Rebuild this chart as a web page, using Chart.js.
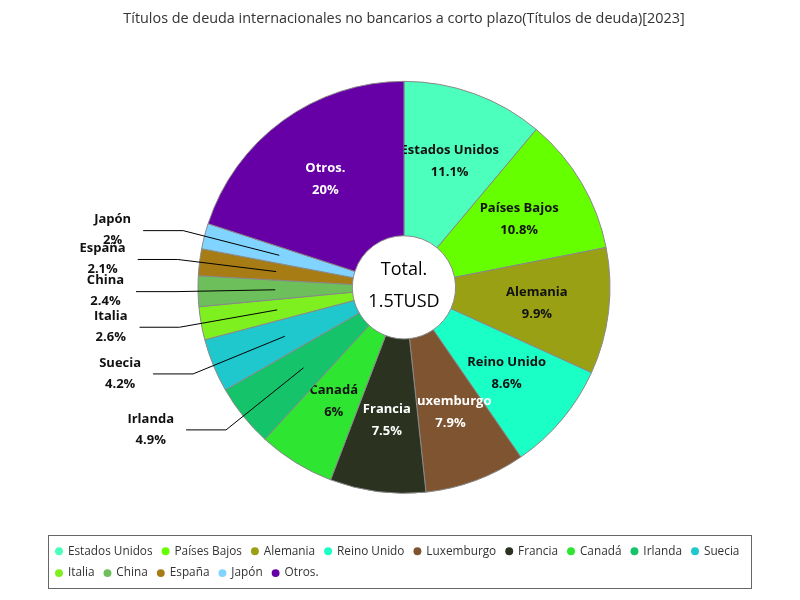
<!DOCTYPE html>
<html>
<head>
<meta charset="utf-8">
<script src="https://cdn.jsdelivr.net/npm/chart.js@4.4.0/dist/chart.umd.min.js"></script>
<style>
  html, body { margin: 0; padding: 0; background: #fff; }
  #contenedor { width: 800px; height: 600px; }
</style>
</head>
<body>
<div id="contenedor"><canvas id="grafico"></canvas></div>
<script>
const titulo = "Títulos de deuda internacionales no bancarios a corto plazo(Títulos de deuda)[2023]";
const paises = ["Estados Unidos", "Países Bajos", "Alemania", "Reino Unido", "Luxemburgo", "Francia",
  "Canadá", "Irlanda", "Suecia", "Italia", "China", "España", "Japón", "Otros."];
const porcentajes = [11.1, 10.8, 9.9, 8.6, 7.9, 7.5, 6, 4.9, 4.2, 2.6, 2.4, 2.1, 2, 20];
const colores = ["#4dffbd", "#66ff00", "#9aa014", "#1affc6", "#7f5430", "#2b3320",
  "#2ee632", "#14c36a", "#1ec8cc", "#7ef020", "#6cbf5a", "#a87c14", "#80d4ff", "#6600a6"];
const totalEtiqueta = "Total.";
const totalValor = "1.5TUSD";

const fuente = "'Open Sans', 'Noto Sans', sans-serif";

// texto blanco sobre porciones oscuras
function colorTexto(hex) {
  const r = parseInt(hex.substr(1, 2), 16), g = parseInt(hex.substr(3, 2), 16), b = parseInt(hex.substr(5, 2), 16);
  return (0.299 * r + 0.587 * g + 0.114 * b) < 110 ? "#fff" : "#111";
}

const etiquetas = {
  id: "etiquetas",
  afterDatasetsDraw(chart) {
    const ctx = chart.ctx;
    const meta = chart.getDatasetMeta(0);
    const n = meta.data.length;
    const ultimo = meta.data[n - 1].getProps(["endAngle"], true).endAngle;
    meta.data.forEach((arc, i) => {
      const p = arc.getProps(["x", "y", "startAngle", "endAngle", "innerRadius", "outerRadius"], true);
      const mid = (p.startAngle + p.endAngle) / 2;
      const rMid = (p.innerRadius + p.outerRadius) / 2;
      const cos = Math.cos(mid), sin = Math.sin(mid);
      const pct = porcentajes[i] + "%";
      ctx.save();
      ctx.font = "bold 13px " + fuente;
      ctx.textBaseline = "middle";
      ctx.textAlign = "center";
      if (porcentajes[i] >= 5) {
        // las porciones siguientes tapan la etiqueta
        ctx.beginPath();
        ctx.rect(0, 0, chart.width, chart.height);
        ctx.moveTo(p.x + Math.cos(p.endAngle) * p.outerRadius, p.y + Math.sin(p.endAngle) * p.outerRadius);
        ctx.arc(p.x, p.y, p.outerRadius, p.endAngle, ultimo);
        ctx.arc(p.x, p.y, p.innerRadius, ultimo, p.endAngle, true);
        ctx.closePath();
        ctx.clip("evenodd");
        const cx = p.x + cos * (rMid + 5), cy = p.y + sin * (rMid + 5);
        ctx.fillStyle = colorTexto(colores[i]);
        ctx.fillText(paises[i], cx, cy - 11);
        ctx.fillText(pct, cx, cy + 11);
      } else {
        const ax = p.x + cos * rMid, ay = p.y + sin * rMid;
        const ex = p.x + cos * (p.outerRadius + 22), ey = p.y + sin * (p.outerRadius + 22);
        const fx = ex - 40;
        ctx.strokeStyle = "#000";
        ctx.lineWidth = 1;
        ctx.beginPath();
        ctx.moveTo(ax, ay);
        ctx.lineTo(ex, ey);
        ctx.lineTo(fx, ey);
        ctx.stroke();
        const w = Math.max(ctx.measureText(paises[i]).width, ctx.measureText(pct).width);
        const bx = fx - 12 - w / 2;
        ctx.fillStyle = "#111";
        ctx.fillText(paises[i], bx, ey - 11);
        ctx.fillText(pct, bx, ey + 10);
      }
      ctx.restore();
    });
    // texto central
    const c = meta.data[0];
    ctx.save();
    ctx.font = "500 18px " + fuente;
    ctx.fillStyle = "#000";
    ctx.textAlign = "center";
    ctx.textBaseline = "middle";
    ctx.fillText(totalEtiqueta, c.x, c.y - 17);
    ctx.fillText(totalValor, c.x, c.y + 15);
    ctx.restore();
  },
  afterDraw(chart) {
    const lg = chart.legend;
    const ctx = chart.ctx;
    ctx.save();
    ctx.strokeStyle = "#666";
    ctx.lineWidth = 1;
    ctx.strokeRect(48.5, Math.round(lg.top) + 0.5, 703, Math.round(lg.height) - 1);
    ctx.restore();
  }
};

const ctx = document.getElementById("grafico").getContext("2d");
const grafico = new Chart(ctx, {
  type: "doughnut",
  data: {
    labels: paises,
    datasets: [{
      data: porcentajes,
      backgroundColor: colores,
      borderColor: "#888",
      borderWidth: 1,
      radius: 206,
      cutout: 62
    }]
  },
  options: {
    responsive: true,
    maintainAspectRatio: false,
    animation: false,
    layout: { padding: { left: 46, right: 38, top: 0, bottom: 11 } },
    plugins: {
      title: {
        display: true,
        text: titulo,
        color: "#333",
        font: { family: fuente, size: 14.4, weight: "normal" },
        padding: { top: 10, bottom: 12 }
      },
      legend: {
        position: "bottom",
        align: "start",
        labels: {
          usePointStyle: true,
          pointStyle: "circle",
          boxWidth: 6,
          boxHeight: 5.6,
          padding: 10,
          color: "#333",
          font: { family: fuente, size: 11.8 },
          generateLabels(chart) {
            const items = Chart.overrides.doughnut.plugins.legend.labels.generateLabels(chart);
            items.forEach(it => { it.strokeStyle = it.fillStyle; it.lineWidth = 0; });
            return items;
          }
        }
      },
      tooltip: { enabled: false }
    }
  },
  plugins: [etiquetas]
});
</script>
</body>
</html>
